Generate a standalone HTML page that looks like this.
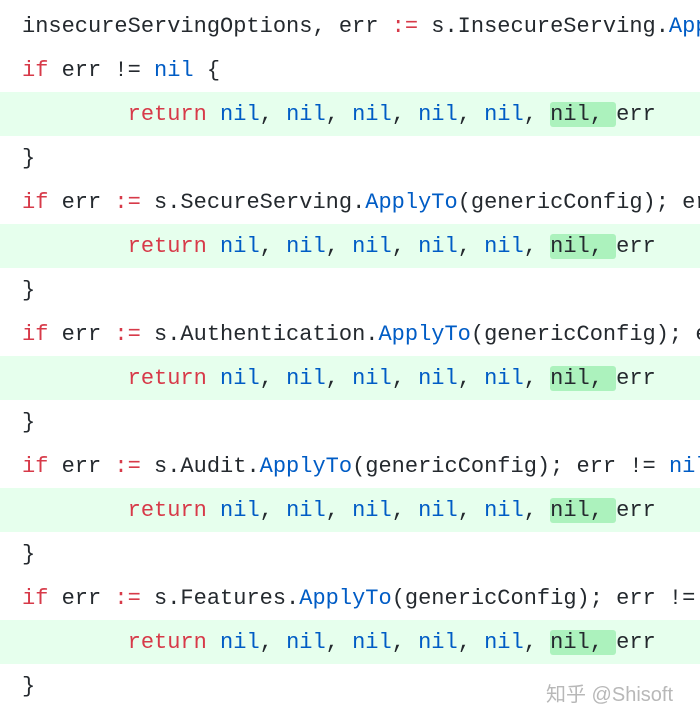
<!DOCTYPE html>
<html><head><meta charset="utf-8"><style>
html,body{margin:0;padding:0;background:#fff;width:700px;height:720px;overflow:hidden;position:relative}
.l{position:absolute;left:0;width:700px;height:44px;line-height:44px;font-family:"Liberation Mono",monospace;font-size:22px;color:#24292e;white-space:pre;padding-left:22px;box-sizing:border-box;overflow:hidden}
.g{background:#e6ffed}
.k{color:#d73a49}.b{color:#005cc5}
.h{background:#acf2bd;border-radius:3px}
.wm{position:absolute;left:546px;top:678px;font-family:"Liberation Sans","Noto Sans CJK SC",sans-serif;font-size:20px;color:#b8b8b8}
</style></head><body>
<div class="l" style="top:5px">insecureServingOptions, err <span class="k">:=</span> s.InsecureServing.<span class="b">ApplyTo</span>(</div>
<div class="l" style="top:49px"><span class="k">if</span> err != <span class="b">nil</span> {</div>
<div class="l g" style="top:92px;line-height:46px">        <span class="k">return</span> <span class="b">nil</span>, <span class="b">nil</span>, <span class="b">nil</span>, <span class="b">nil</span>, <span class="b">nil</span>, <span class="h">nil, </span>err</div>
<div class="l" style="top:137px">}</div>
<div class="l" style="top:181px"><span class="k">if</span> err <span class="k">:=</span> s.SecureServing.<span class="b">ApplyTo</span>(genericConfig); err</div>
<div class="l g" style="top:224px;line-height:46px">        <span class="k">return</span> <span class="b">nil</span>, <span class="b">nil</span>, <span class="b">nil</span>, <span class="b">nil</span>, <span class="b">nil</span>, <span class="h">nil, </span>err</div>
<div class="l" style="top:269px">}</div>
<div class="l" style="top:313px"><span class="k">if</span> err <span class="k">:=</span> s.Authentication.<span class="b">ApplyTo</span>(genericConfig); err</div>
<div class="l g" style="top:356px;line-height:46px">        <span class="k">return</span> <span class="b">nil</span>, <span class="b">nil</span>, <span class="b">nil</span>, <span class="b">nil</span>, <span class="b">nil</span>, <span class="h">nil, </span>err</div>
<div class="l" style="top:401px">}</div>
<div class="l" style="top:445px"><span class="k">if</span> err <span class="k">:=</span> s.Audit.<span class="b">ApplyTo</span>(genericConfig); err != <span class="b">nil</span></div>
<div class="l g" style="top:488px;line-height:46px">        <span class="k">return</span> <span class="b">nil</span>, <span class="b">nil</span>, <span class="b">nil</span>, <span class="b">nil</span>, <span class="b">nil</span>, <span class="h">nil, </span>err</div>
<div class="l" style="top:533px">}</div>
<div class="l" style="top:577px"><span class="k">if</span> err <span class="k">:=</span> s.Features.<span class="b">ApplyTo</span>(genericConfig); err != </div>
<div class="l g" style="top:620px;line-height:46px">        <span class="k">return</span> <span class="b">nil</span>, <span class="b">nil</span>, <span class="b">nil</span>, <span class="b">nil</span>, <span class="b">nil</span>, <span class="h">nil, </span>err</div>
<div class="l" style="top:665px">}</div>
<div class="wm">知乎 @Shisoft</div>
</body></html>
